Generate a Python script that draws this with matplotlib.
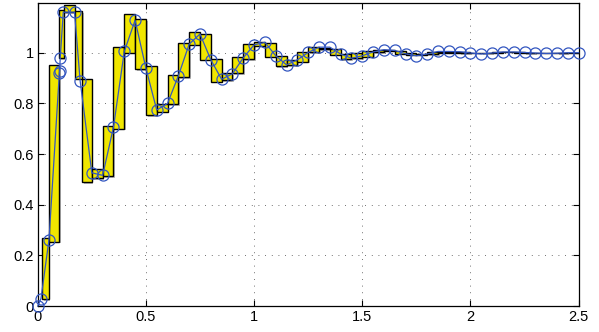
import matplotlib
matplotlib.use('Agg')
import matplotlib.pyplot as plt
import matplotlib.patheffects as pe
import numpy as np

plt.rcParams['font.family'] = ['Liberation Sans', 'DejaVu Sans']

# sampled response (circles)
t_pts = [0, 0.015, 0.052, 0.100, 0.101, 0.104, 0.118, 0.170, 0.196,
         0.25, 0.30, 0.35, 0.40, 0.45, 0.50, 0.55, 0.60, 0.65, 0.70, 0.75,
         0.80, 0.85, 0.90, 0.95, 1.00, 1.05, 1.10, 1.15, 1.20, 1.25,
         1.30, 1.35, 1.40, 1.45, 1.50, 1.55, 1.60, 1.65, 1.70, 1.75,
         1.80, 1.85, 1.90, 1.95, 2.00, 2.05, 2.10, 2.15, 2.20, 2.25,
         2.30, 2.35, 2.40, 2.45, 2.50]
y_pts = [0, 0.030, 0.262, 0.920, 0.926, 0.981, 1.160, 1.160, 0.889,
         0.526, 0.516, 0.706, 1.005, 1.128, 0.939, 0.774, 0.800, 0.909, 1.034, 1.074,
         0.972, 0.895, 0.917, 0.980, 1.031, 1.041, 0.988, 0.952, 0.972, 1.001,
         1.022, 1.022, 0.995, 0.978, 0.988, 1.003, 1.012, 1.009, 0.996, 0.988,
         0.995, 1.005, 1.005, 1.004, 0.999, 0.995, 0.999, 1.003, 1.003, 1.001,
         0.999, 0.997, 0.998, 1.000, 1.000]

# interval boxes (yellow)
bar_edges = [0.02, 0.05, 0.10, 0.12, 0.17, 0.205, 0.25, 0.30, 0.35, 0.40,
             0.45, 0.50, 0.55, 0.60, 0.65, 0.70, 0.75, 0.80, 0.85, 0.90,
             0.95, 1.00, 1.05, 1.10, 1.15, 1.20, 1.25, 1.30, 1.35, 1.40,
             1.45, 1.50, 1.55, 1.60, 1.65, 1.70, 1.75, 1.80, 1.85, 1.90,
             1.95, 2.00, 2.05, 2.10, 2.15, 2.20, 2.25, 2.30, 2.35, 2.40,
             2.45, 2.50]
bar_lo = [0.027, 0.254, 0.979, 1.161, 0.897, 0.490, 0.505, 0.513, 0.700,
          1.000, 0.935, 0.753, 0.767, 0.796, 0.903, 1.032, 0.972, 0.886,
          0.893, 0.919, 0.975, 1.028, 0.985, 0.948, 0.952, 0.965, 1.001,
          1.014, 0.992, 0.975, 0.979, 0.985, 1.002, 1.008, 0.996, 0.993,
          0.993, 0.995, 1.000, 1.000, 0.999, 0.997, 0.997, 1.000, 1.001,
          1.000, 0.999, 0.998, 0.998, 0.999, 1.000]
bar_hi = [0.268, 0.950, 1.167, 1.187, 1.163, 0.897, 0.540, 0.710, 1.022,
          1.153, 1.132, 0.946, 0.798, 0.911, 1.040, 1.082, 1.075, 0.975,
          0.919, 0.983, 1.034, 1.041, 1.038, 0.988, 0.972, 1.003, 1.021,
          1.020, 1.016, 0.995, 0.999, 1.005, 1.012, 1.012, 1.006, 0.999,
          0.996, 1.002, 1.003, 1.002, 1.001, 0.999, 1.000, 1.002, 1.002,
          1.001, 1.000, 0.999, 0.999, 1.000, 1.000]

edges = np.array(bar_edges)
lo = np.array(bar_lo)
hi = np.array(bar_hi)

fig = plt.figure(figsize=(5.99, 3.32), dpi=100)
ax = fig.add_axes([0.063, 0.078, 0.903, 0.912])

bars = ax.bar(edges[:-1], hi - lo, width=np.diff(edges), bottom=lo, align='edge',
              color='#f0e600', edgecolor='black', linewidth=1.0, zorder=2)
# soft grey shadow like the old renderer
for b in bars:
    b.set_path_effects([pe.SimplePatchShadow(offset=(1.2, -1.2), shadow_rgbFace='#909090',
                                             alpha=0.6), pe.Normal()])

ax.plot(t_pts, y_pts, '-o', color='#3356c0', linewidth=0.9,
        markersize=8, markerfacecolor='none', markeredgewidth=0.9, zorder=3,
        clip_on=False)

ax.set_xlim(0, 2.5)
ax.set_ylim(0, 1.195)
ax.set_xticks([0, 0.5, 1, 1.5, 2, 2.5])
ax.set_xticklabels(['0', '0.5', '1', '1.5', '2', '2.5'])
ax.set_yticks([0, 0.2, 0.4, 0.6, 0.8, 1])
ax.set_yticklabels(['0', '0.2', '0.4', '0.6', '0.8', '1'])
ax.tick_params(direction='in', top=True, right=True, length=4, width=0.8,
               labelsize=10.5, pad=3)
ax.grid(True, color='#404040', linestyle=(0, (1, 7)), linewidth=0.6)
ax.set_axisbelow(True)
for s in ax.spines.values():
    s.set_linewidth(0.9)

fig.savefig('out.png', dpi=100)
